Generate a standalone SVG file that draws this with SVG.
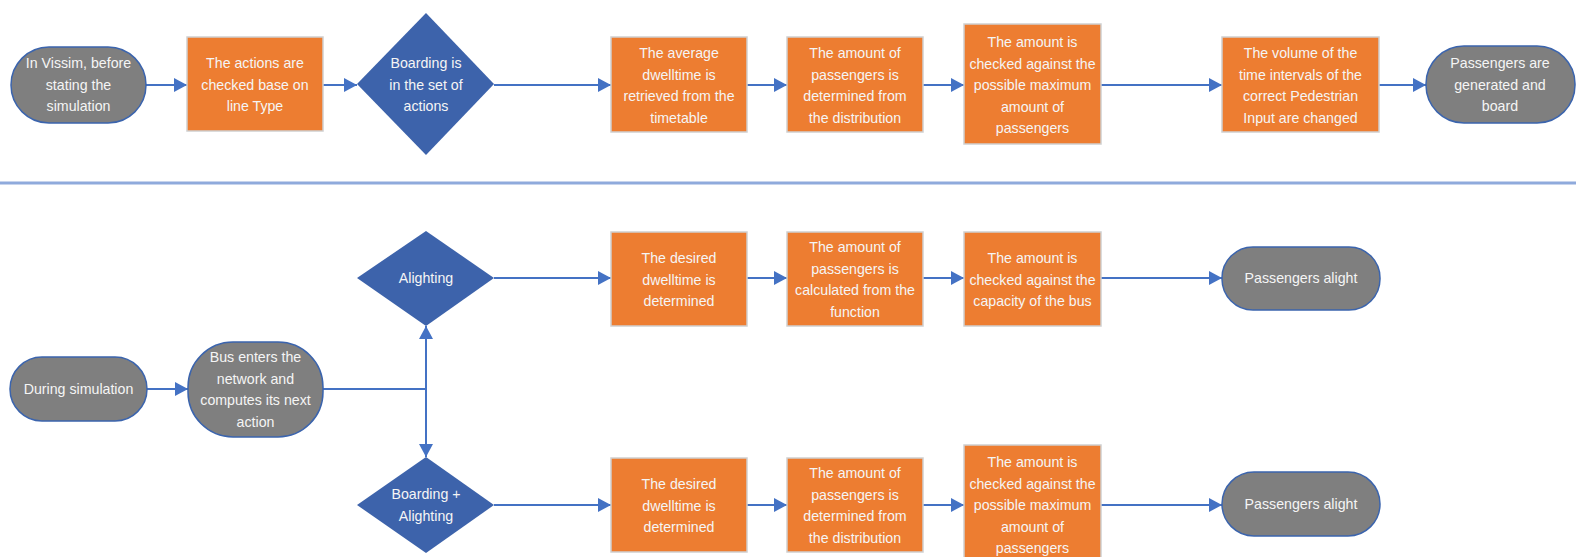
<svg xmlns="http://www.w3.org/2000/svg" width="1576" height="557" viewBox="0 0 1576 557">
<defs>
<marker id="ah" markerUnits="userSpaceOnUse" markerWidth="13" markerHeight="14" refX="13" refY="7" orient="auto">
<path d="M0,0 L13,7 L0,14 z" fill="#4472c4"/>
</marker>
<style>
.term{fill:#7f7f7f;stroke:#3b64ad;stroke-width:1.5}
.proc{fill:#ed7d31;stroke:#cfcfcf;stroke-width:1.5}
.dec{fill:#3d63ab;stroke:none}
.conn{fill:none;stroke:#4472c4;stroke-width:2}
.t{font-family:"Liberation Sans",Arial,sans-serif;font-size:14.2px;fill:#f5f5f5;text-anchor:middle}
</style>
</defs>
<rect width="1576" height="557" fill="#ffffff"/>
<line x1="0" y1="183" x2="1576" y2="183" stroke="#8faadc" stroke-width="3"/>
<g id="connectors">
<line class="conn" x1="146" y1="85" x2="187" y2="85" marker-end="url(#ah)"/>
<line class="conn" x1="323" y1="85" x2="357" y2="85" marker-end="url(#ah)"/>
<line class="conn" x1="494" y1="85" x2="611" y2="85" marker-end="url(#ah)"/>
<line class="conn" x1="747" y1="85" x2="787" y2="85" marker-end="url(#ah)"/>
<line class="conn" x1="923" y1="85" x2="964" y2="85" marker-end="url(#ah)"/>
<line class="conn" x1="1101" y1="85" x2="1222" y2="85" marker-end="url(#ah)"/>
<line class="conn" x1="1379" y1="85" x2="1426" y2="85" marker-end="url(#ah)"/>
<line class="conn" x1="147" y1="389" x2="188" y2="389" marker-end="url(#ah)"/>
<polyline class="conn" points="323,389 426,389"/>
<line class="conn" x1="426" y1="389" x2="426" y2="326" marker-end="url(#ah)"/>
<line class="conn" x1="426" y1="389" x2="426" y2="457" marker-end="url(#ah)"/>
<line class="conn" x1="494" y1="278" x2="611" y2="278" marker-end="url(#ah)"/>
<line class="conn" x1="747" y1="278" x2="787" y2="278" marker-end="url(#ah)"/>
<line class="conn" x1="923" y1="278" x2="964" y2="278" marker-end="url(#ah)"/>
<line class="conn" x1="1101" y1="278" x2="1222" y2="278" marker-end="url(#ah)"/>
<line class="conn" x1="494" y1="505" x2="611" y2="505" marker-end="url(#ah)"/>
<line class="conn" x1="747" y1="505" x2="787" y2="505" marker-end="url(#ah)"/>
<line class="conn" x1="923" y1="505" x2="964" y2="505" marker-end="url(#ah)"/>
<line class="conn" x1="1101" y1="505" x2="1222" y2="505" marker-end="url(#ah)"/>
</g>
<g id="n1"><rect class="term" x="11" y="47" width="135" height="76" rx="38"/>
<text class="t"><tspan x="78.5" y="68">In Vissim, before</tspan><tspan x="78.5" y="89.5">stating the</tspan><tspan x="78.5" y="111">simulation</tspan></text></g>
<g id="n2"><rect class="proc" x="187" y="37" width="136" height="94"/>
<text class="t"><tspan x="255" y="68">The actions are</tspan><tspan x="255" y="89.5">checked base on</tspan><tspan x="255" y="111">line Type</tspan></text></g>
<g id="n3"><polygon class="dec" points="426,13 494,84 426,155 357,84"/>
<text class="t"><tspan x="426" y="68">Boarding is</tspan><tspan x="426" y="89.5">in the set of</tspan><tspan x="426" y="111">actions</tspan></text></g>
<g id="n4"><rect class="proc" x="611" y="37" width="136" height="95"/>
<text class="t"><tspan x="679" y="58">The average</tspan><tspan x="679" y="79.5">dwelltime is</tspan><tspan x="679" y="101">retrieved from the</tspan><tspan x="679" y="122.5">timetable</tspan></text></g>
<g id="n5"><rect class="proc" x="787" y="37" width="136" height="95"/>
<text class="t"><tspan x="855" y="58">The amount of</tspan><tspan x="855" y="79.5">passengers is</tspan><tspan x="855" y="101">determined from</tspan><tspan x="855" y="122.5">the distribution</tspan></text></g>
<g id="n6"><rect class="proc" x="964" y="24" width="137" height="120"/>
<text class="t"><tspan x="1032.5" y="47">The amount is</tspan><tspan x="1032.5" y="68.5">checked against the</tspan><tspan x="1032.5" y="90">possible maximum</tspan><tspan x="1032.5" y="111.5">amount of</tspan><tspan x="1032.5" y="133">passengers</tspan></text></g>
<g id="n7"><rect class="proc" x="1222" y="37" width="157" height="95"/>
<text class="t"><tspan x="1300.5" y="58">The volume of the</tspan><tspan x="1300.5" y="79.5">time intervals of the</tspan><tspan x="1300.5" y="101">correct Pedestrian</tspan><tspan x="1300.5" y="122.5">Input are changed</tspan></text></g>
<g id="n8"><rect class="term" x="1426" y="46" width="149" height="77" rx="38"/>
<text class="t"><tspan x="1500" y="68">Passengers are</tspan><tspan x="1500" y="89.5">generated and</tspan><tspan x="1500" y="111">board</tspan></text></g>
<g id="b1"><rect class="term" x="10" y="357" width="137" height="64" rx="32"/>
<text class="t"><tspan x="78.5" y="394">During simulation</tspan></text></g>
<g id="b2"><rect class="term" x="188" y="342" width="135" height="95" rx="45"/>
<text class="t"><tspan x="255.5" y="362">Bus enters the</tspan><tspan x="255.5" y="383.5">network and</tspan><tspan x="255.5" y="405">computes its next</tspan><tspan x="255.5" y="426.5">action</tspan></text></g>
<g id="a1"><polygon class="dec" points="426,231 494,278 426,326 357,278"/>
<text class="t"><tspan x="426" y="283">Alighting</tspan></text></g>
<g id="a2"><rect class="proc" x="611" y="232" width="136" height="94"/>
<text class="t"><tspan x="679" y="263">The desired</tspan><tspan x="679" y="284.5">dwelltime is</tspan><tspan x="679" y="306">determined</tspan></text></g>
<g id="a3"><rect class="proc" x="787" y="232" width="136" height="94"/>
<text class="t"><tspan x="855" y="252">The amount of</tspan><tspan x="855" y="273.5">passengers is</tspan><tspan x="855" y="295">calculated from the</tspan><tspan x="855" y="316.5">function</tspan></text></g>
<g id="a4"><rect class="proc" x="964" y="232" width="137" height="94"/>
<text class="t"><tspan x="1032.5" y="263">The amount is</tspan><tspan x="1032.5" y="284.5">checked against the</tspan><tspan x="1032.5" y="306">capacity of the bus</tspan></text></g>
<g id="a5"><rect class="term" x="1222" y="247" width="158" height="63" rx="31"/>
<text class="t"><tspan x="1301" y="283">Passengers alight</tspan></text></g>
<g id="c1"><polygon class="dec" points="426,457 494,505 426,553 357,505"/>
<text class="t"><tspan x="426" y="499">Boarding +</tspan><tspan x="426" y="520.5">Alighting</tspan></text></g>
<g id="c2"><rect class="proc" x="611" y="458" width="136" height="94"/>
<text class="t"><tspan x="679" y="489">The desired</tspan><tspan x="679" y="510.5">dwelltime is</tspan><tspan x="679" y="532">determined</tspan></text></g>
<g id="c3"><rect class="proc" x="787" y="458" width="136" height="94"/>
<text class="t"><tspan x="855" y="478">The amount of</tspan><tspan x="855" y="499.5">passengers is</tspan><tspan x="855" y="521">determined from</tspan><tspan x="855" y="542.5">the distribution</tspan></text></g>
<g id="c4"><rect class="proc" x="964" y="445" width="137" height="120"/>
<text class="t"><tspan x="1032.5" y="467">The amount is</tspan><tspan x="1032.5" y="488.5">checked against the</tspan><tspan x="1032.5" y="510">possible maximum</tspan><tspan x="1032.5" y="531.5">amount of</tspan><tspan x="1032.5" y="553">passengers</tspan></text></g>
<g id="c5"><rect class="term" x="1222" y="472" width="158" height="64" rx="32"/>
<text class="t"><tspan x="1301" y="509">Passengers alight</tspan></text></g>
</svg>
